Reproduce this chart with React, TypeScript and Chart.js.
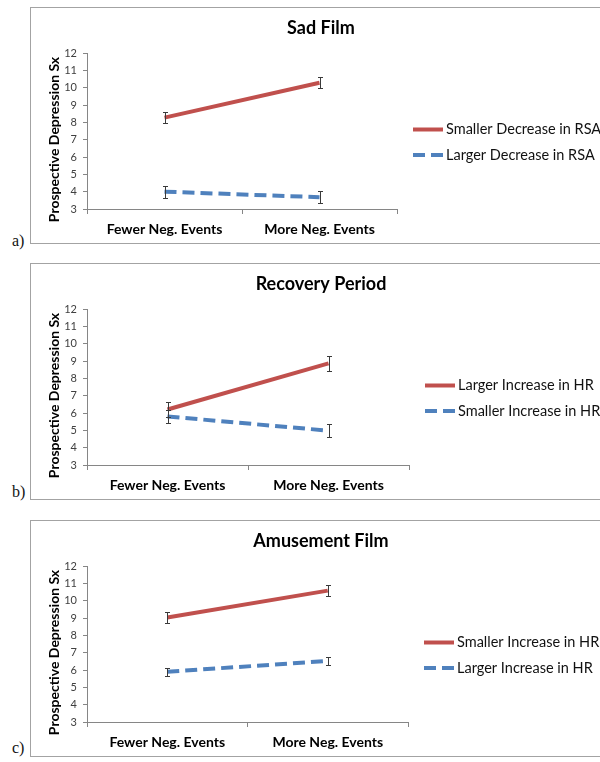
import React, { useEffect, useRef } from "react";
import { Chart, registerables } from "chart.js";

Chart.register(...registerables);

// ---------- data ----------
const categories = ["Fewer Neg. Events", "More Neg. Events"];
const yMin = 3;
const yMax = 12;
const yStep = 1;
const yAxisTitle = "Prospective Depression Sx";

const sadTitle = "Sad Film";
const sadLabels = ["Smaller Decrease in RSA", "Larger Decrease in RSA"];
const sadSolid = [8.27, 10.28];
const sadSolidErr = [0.31, 0.32];
const sadDashed = [4.0, 3.68];
const sadDashedErr = [0.34, 0.36];

const recTitle = "Recovery Period";
const recLabels = ["Larger Increase in HR", "Smaller Increase in HR"];
const recSolid = [6.2, 8.86];
const recSolidErr = [0.42, 0.44];
const recDashed = [5.8, 4.98];
const recDashedErr = [0.38, 0.39];

const amuTitle = "Amusement Film";
const amuLabels = ["Smaller Increase in HR", "Larger Increase in HR"];
const amuSolid = [9.03, 10.58];
const amuSolidErr = [0.31, 0.31];
const amuDashed = [5.9, 6.52];
const amuDashedErr = [0.23, 0.22];

// ---------- style ----------
const FONT = "Lato, 'Open Sans', sans-serif";
const RED = "#C0504D";
const BLUE = "#4F81BD";
const AXIS = "#868686";

const errorBarPlugin = {
  id: "errorBars",
  afterDatasetsDraw(chart: any) {
    const { ctx } = chart;
    const x = chart.scales.x;
    const y = chart.scales.y;
    ctx.save();
    ctx.strokeStyle = "#3a3a3a";
    ctx.lineWidth = 1;
    chart.data.datasets.forEach((ds: any) => {
      ds.data.forEach((v: number, i: number) => {
        const e = ds.errors[i];
        const px = Math.round(x.getPixelForValue(i)) + 0.5;
        const t = Math.round(y.getPixelForValue(v + e)) + 0.5;
        const b = Math.round(y.getPixelForValue(v - e)) + 0.5;
        ctx.beginPath();
        ctx.moveTo(px, t);
        ctx.lineTo(px, b);
        ctx.moveTo(px - 2.5, t);
        ctx.lineTo(px + 2.5, t);
        ctx.moveTo(px - 2.5, b);
        ctx.lineTo(px + 2.5, b);
        ctx.stroke();
      });
    });
    ctx.restore();
  },
};

const sideLegendPlugin = {
  id: "sideLegend",
  afterDraw(chart: any) {
    const { ctx, chartArea } = chart;
    ctx.save();
    // rotated y-axis title (placed like the original, slightly below centre)
    const cy = (chartArea.top + chartArea.bottom) / 2 + 8.5;
    ctx.translate(23.5, cy);
    ctx.rotate(-Math.PI / 2);
    ctx.fillStyle = "#000";
    ctx.font = `bold 14px ${FONT}`;
    ctx.textAlign = "center";
    ctx.textBaseline = "middle";
    ctx.fillText(yAxisTitle, 0, 0);
    ctx.setTransform(1, 0, 0, 1, 0, 0);

    const x0 = chartArea.right + 16;
    const rows = [121.5, 147];
    chart.data.datasets.forEach((ds: any, i: number) => {
      const yy = rows[i];
      ctx.beginPath();
      ctx.strokeStyle = ds.borderColor;
      ctx.lineWidth = ds.borderWidth;
      ctx.setLineDash(ds.borderDash || []);
      ctx.lineCap = "butt";
      ctx.moveTo(x0, yy);
      ctx.lineTo(x0 + 30, yy);
      ctx.stroke();
      ctx.setLineDash([]);
      ctx.fillStyle = "#111";
      ctx.font = `14.5px ${FONT}`;
      ctx.textBaseline = "middle";
      ctx.textAlign = "left";
      ctx.fillText(ds.label, x0 + 33, yy);
    });
    ctx.restore();
  },
};

type PanelProps = {
  top: number;
  title: string;
  labels: string[];
  solid: number[];
  solidErr: number[];
  dashed: number[];
  dashedErr: number[];
  padRight: number;
  tag: string;
  tagTop: number;
};

function Panel(p: PanelProps) {
  const ref = useRef<HTMLCanvasElement>(null);
  useEffect(() => {
    const chart = new Chart(ref.current as HTMLCanvasElement, {
      type: "line",
      data: {
        labels: categories,
        datasets: [
          {
            label: p.labels[0],
            data: p.solid,
            errors: p.solidErr,
            borderColor: RED,
            backgroundColor: RED,
            borderWidth: 4,
            pointRadius: 0,
            tension: 0,
          } as any,
          {
            label: p.labels[1],
            data: p.dashed,
            errors: p.dashedErr,
            borderColor: BLUE,
            backgroundColor: BLUE,
            borderWidth: 4,
            borderDash: [12, 6],
            pointRadius: 0,
            tension: 0,
          } as any,
        ],
      },
      options: {
        animation: false,
        responsive: false,
        maintainAspectRatio: false,
        devicePixelRatio: 1,
        layout: { padding: 0 },
        plugins: {
          legend: { display: false },
          tooltip: { enabled: false },
          title: {
            display: true,
            text: p.title,
            color: "#000",
            font: { family: FONT, size: 18, weight: "bold" },
            padding: { top: 9, bottom: 14.4 },
          },
        },
        scales: {
          x: {
            type: "category",
            offset: true,
            grid: {
              display: true,
              offset: true,
              drawOnChartArea: false,
              drawTicks: true,
              tickLength: 5,
              color: AXIS,
            },
            border: { display: true, color: AXIS },
            ticks: {
              color: "#000",
              font: { family: FONT, size: 14, weight: "bold" },
              padding: 7,
              maxRotation: 0,
              autoSkip: false,
            },
            afterFit: (s: any) => {
              s.height = 34;
            },
          },
          y: {
            min: yMin,
            max: yMax,
            ticks: {
              stepSize: yStep,
              color: "#404040",
              font: { family: FONT, size: 11 },
              padding: 6,
            },
            grid: {
              drawOnChartArea: false,
              drawTicks: true,
              tickLength: 4,
              color: AXIS,
            },
            border: { display: true, color: AXIS },
            title: { display: false },
            afterFit: (s: any) => {
              s.width = 56;
            },
          },
          legendSpace: {
            type: "linear",
            position: "right",
            display: true,
            grid: { display: false, drawTicks: false },
            border: { display: false },
            ticks: { display: false },
            afterFit: (s: any) => {
              s.width = p.padRight;
            },
          },
        },
      } as any,
      plugins: [errorBarPlugin, sideLegendPlugin],
    });
    return () => chart.destroy();
  }, []);

  return (
    <>
      <div
        style={{
          position: "absolute",
          left: 30,
          top: p.top,
          width: 580,
          height: 235,
          border: "1px solid #a3a3a3",
          background: "#fff",
        }}
      >
        <canvas
          ref={ref}
          width={580}
          height={235}
          style={{ position: "absolute", left: 0, top: 0, width: 580, height: 235 }}
        />
      </div>
      <div
        style={{
          position: "absolute",
          left: 12,
          top: p.tagTop,
          fontFamily: "'Liberation Serif', 'Times New Roman', serif",
          fontSize: 16,
          lineHeight: "16px",
          color: "#111",
        }}
      >
        {p.tag}
      </div>
    </>
  );
}

export default function App() {
  return (
    <div
      style={{
        position: "absolute",
        left: 0,
        top: 0,
        width: 600,
        height: 762,
        overflow: "hidden",
        background: "#fff",
      }}
    >
      <Panel
        top={7}
        title={sadTitle}
        labels={sadLabels}
        solid={sadSolid}
        solidErr={sadSolidErr}
        dashed={sadDashed}
        dashedErr={sadDashedErr}
        padRight={214}
        tag="a)"
        tagTop={233}
      />
      <Panel
        top={263}
        title={recTitle}
        labels={recLabels}
        solid={recSolid}
        solidErr={recSolidErr}
        dashed={recDashed}
        dashedErr={recDashedErr}
        padRight={202}
        tag="b)"
        tagTop={484}
      />
      <Panel
        top={520}
        title={amuTitle}
        labels={amuLabels}
        solid={amuSolid}
        solidErr={amuSolidErr}
        dashed={amuDashed}
        dashedErr={amuDashedErr}
        padRight={203}
        tag="c)"
        tagTop={740}
      />
    </div>
  );
}
